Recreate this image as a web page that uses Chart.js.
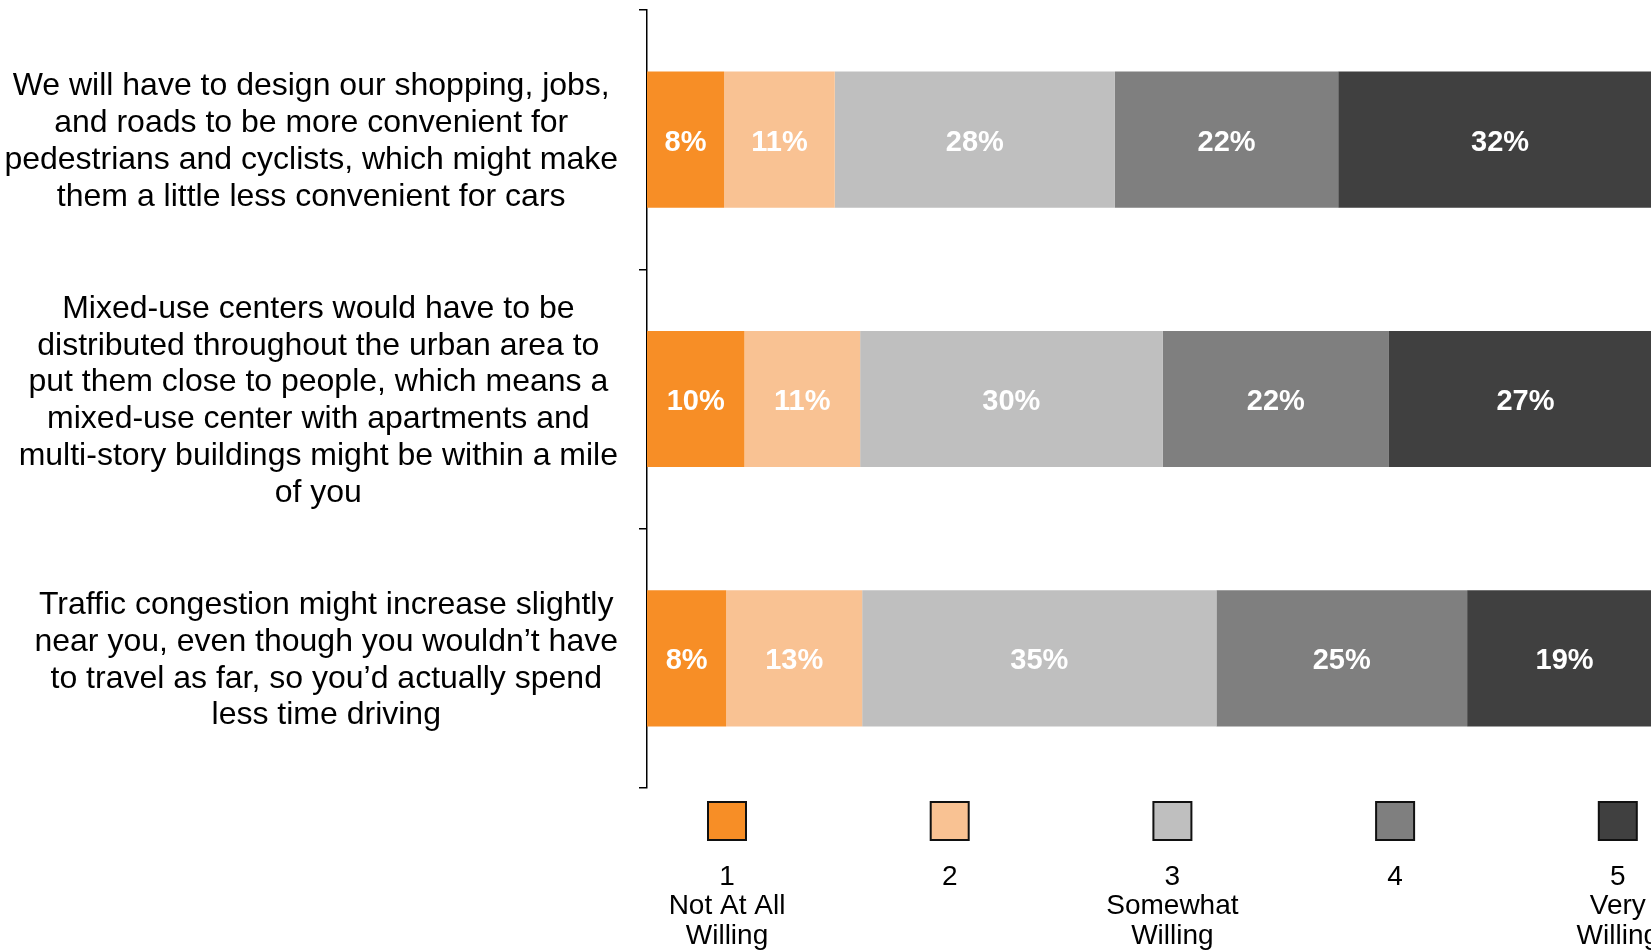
<!DOCTYPE html>
<html>
<head>
<meta charset="utf-8">
<script src="https://cdn.jsdelivr.net/npm/chart.js@4.4.1/dist/chart.umd.min.js"></script>
<style>
  html, body { margin: 0; padding: 0; background: #fff; overflow: hidden; }
  /* el gráfico original sale recortado por la derecha, por eso es más ancho que la ventana */
  #wrap { position: relative; width: 1662px; height: 952px; }
</style>
</head>
<body>
<div id="wrap"><canvas id="grafica"></canvas></div>
<script>
// --- Datos ---------------------------------------------------------------------
const preguntas = [
  ['We will have to design our shopping, jobs,',
   'and roads to be more convenient for',
   'pedestrians and cyclists, which might make',
   'them a little less convenient for cars'],
  ['Mixed-use centers would have to be',
   'distributed throughout the urban area to',
   'put them close to people, which means a',
   'mixed-use center with apartments and',
   'multi-story buildings might be within a mile',
   'of you'],
  ['Traffic congestion might increase slightly',
   'near you, even though you wouldn\u2019t have',
   'to travel as far, so you\u2019d actually spend',
   'less time driving'],
];

const nadaDispuesto = [7.6, 9.6, 7.8];     // 1
const nivel2 = [10.9, 11.4, 13.4];          // 2
const algoDispuesto = [27.6, 29.8, 34.9];   // 3
const nivel4 = [22.0, 22.3, 24.7];          // 4
const muyDispuesto = [31.9, 26.9, 19.2];    // 5

const leyenda = [
  ['1', 'Not At All', 'Willing'],
  ['2'],
  ['3', 'Somewhat', 'Willing'],
  ['4'],
  ['5', 'Very', 'Willing'],
];
const colores = ['#F78E26', '#F9C293', '#BFBFBF', '#7F7F7F', '#404040'];

const FUENTE = '"Liberation Sans", Arial, sans-serif';

// --- Plugins de dibujo ----------------------------------------------------------

// porcentajes en blanco dentro de cada tramo
const etiquetasBarras = {
  id: 'etiquetasBarras',
  afterDatasetsDraw(chart) {
    const ctx = chart.ctx;
    ctx.save();
    ctx.font = 'bold 29px ' + FUENTE;
    ctx.fillStyle = '#FFFFFF';
    ctx.textAlign = 'center';
    ctx.textBaseline = 'middle';
    chart.data.datasets.forEach((ds, i) => {
      chart.getDatasetMeta(i).data.forEach((bar, j) => {
        const { x, base, y } = bar.getProps(['x', 'base', 'y'], true);
        ctx.fillText(Math.round(ds.data[j]) + '%', (x + base) / 2, y + 3);
      });
    });
    ctx.restore();
  },
};

// textos de las preguntas: bloque alineado a la derecha, líneas centradas
const textosEje = {
  id: 'textosEje',
  afterDraw(chart) {
    const ctx = chart.ctx;
    const ejeY = chart.scales.y;
    const alto = 36.8;
    ctx.save();
    ctx.font = '32px ' + FUENTE;
    ctx.fillStyle = '#000';
    ctx.textAlign = 'center';
    ctx.textBaseline = 'middle';
    chart.data.labels.forEach((lineas, i) => {
      const ancho = Math.max(...lineas.map((l) => ctx.measureText(l).width));
      const cx = ejeY.right - 29 - ancho / 2;
      const y0 = ejeY.getPixelForValue(i) + 2 - (lineas.length - 1) * alto / 2;
      lineas.forEach((l, k) => ctx.fillText(l, cx, y0 + k * alto));
    });
    ctx.restore();
  },
};

// leyenda de abajo: cuadro + número + texto
const leyendaAbajo = {
  id: 'leyendaAbajo',
  afterDraw(chart) {
    const ctx = chart.ctx;
    const area = chart.chartArea;
    const lado = 38;
    ctx.save();
    ctx.font = '28px ' + FUENTE;
    ctx.textAlign = 'center';
    ctx.textBaseline = 'middle';
    leyenda.forEach((lineas, i) => {
      const cx = area.left + 80 + i * 222.7;
      const top = area.bottom + 14;
      ctx.fillStyle = colores[i];
      ctx.fillRect(cx - lado / 2, top, lado, lado);
      ctx.lineWidth = 2;
      ctx.strokeStyle = '#111';
      ctx.strokeRect(cx - lado / 2, top, lado, lado);
      ctx.fillStyle = '#000';
      lineas.forEach((l, k) => ctx.fillText(l, cx, area.bottom + 89 + k * 29.6));
    });
    ctx.restore();
  },
};

// --- Gráfica ------------------------------------------------------------------------
const series = [nadaDispuesto, nivel2, algoDispuesto, nivel4, muyDispuesto];

new Chart(document.querySelector('#grafica'), {
  type: 'bar',
  data: {
    labels: preguntas,
    datasets: series.map((datos, i) => ({
      label: leyenda[i].join(' '),
      data: datos,
      backgroundColor: colores[i],
      borderWidth: 0,
      barPercentage: 0.525,
      categoryPercentage: 1,
    })),
  },
  options: {
    indexAxis: 'y',
    responsive: true,
    maintainAspectRatio: false,
    animation: false,
    layout: { padding: { top: 10, bottom: 164, left: 0, right: 0 } },
    plugins: { legend: { display: false }, tooltip: { enabled: false } },
    scales: {
      x: { stacked: true, min: 0, max: 100, display: false },
      y: {
        stacked: true,
        offset: true,
        ticks: { display: false },
        grid: {
          offset: true,
          drawOnChartArea: false,
          drawTicks: true,
          tickLength: 8,
          color: '#000',
          lineWidth: 1.5,
        },
        border: { display: true, color: '#000', width: 1.5 },
        afterFit: (s) => { s.width = 647; },
      },
    },
  },
  plugins: [etiquetasBarras, textosEje, leyendaAbajo],
});
</script>
</body>
</html>
